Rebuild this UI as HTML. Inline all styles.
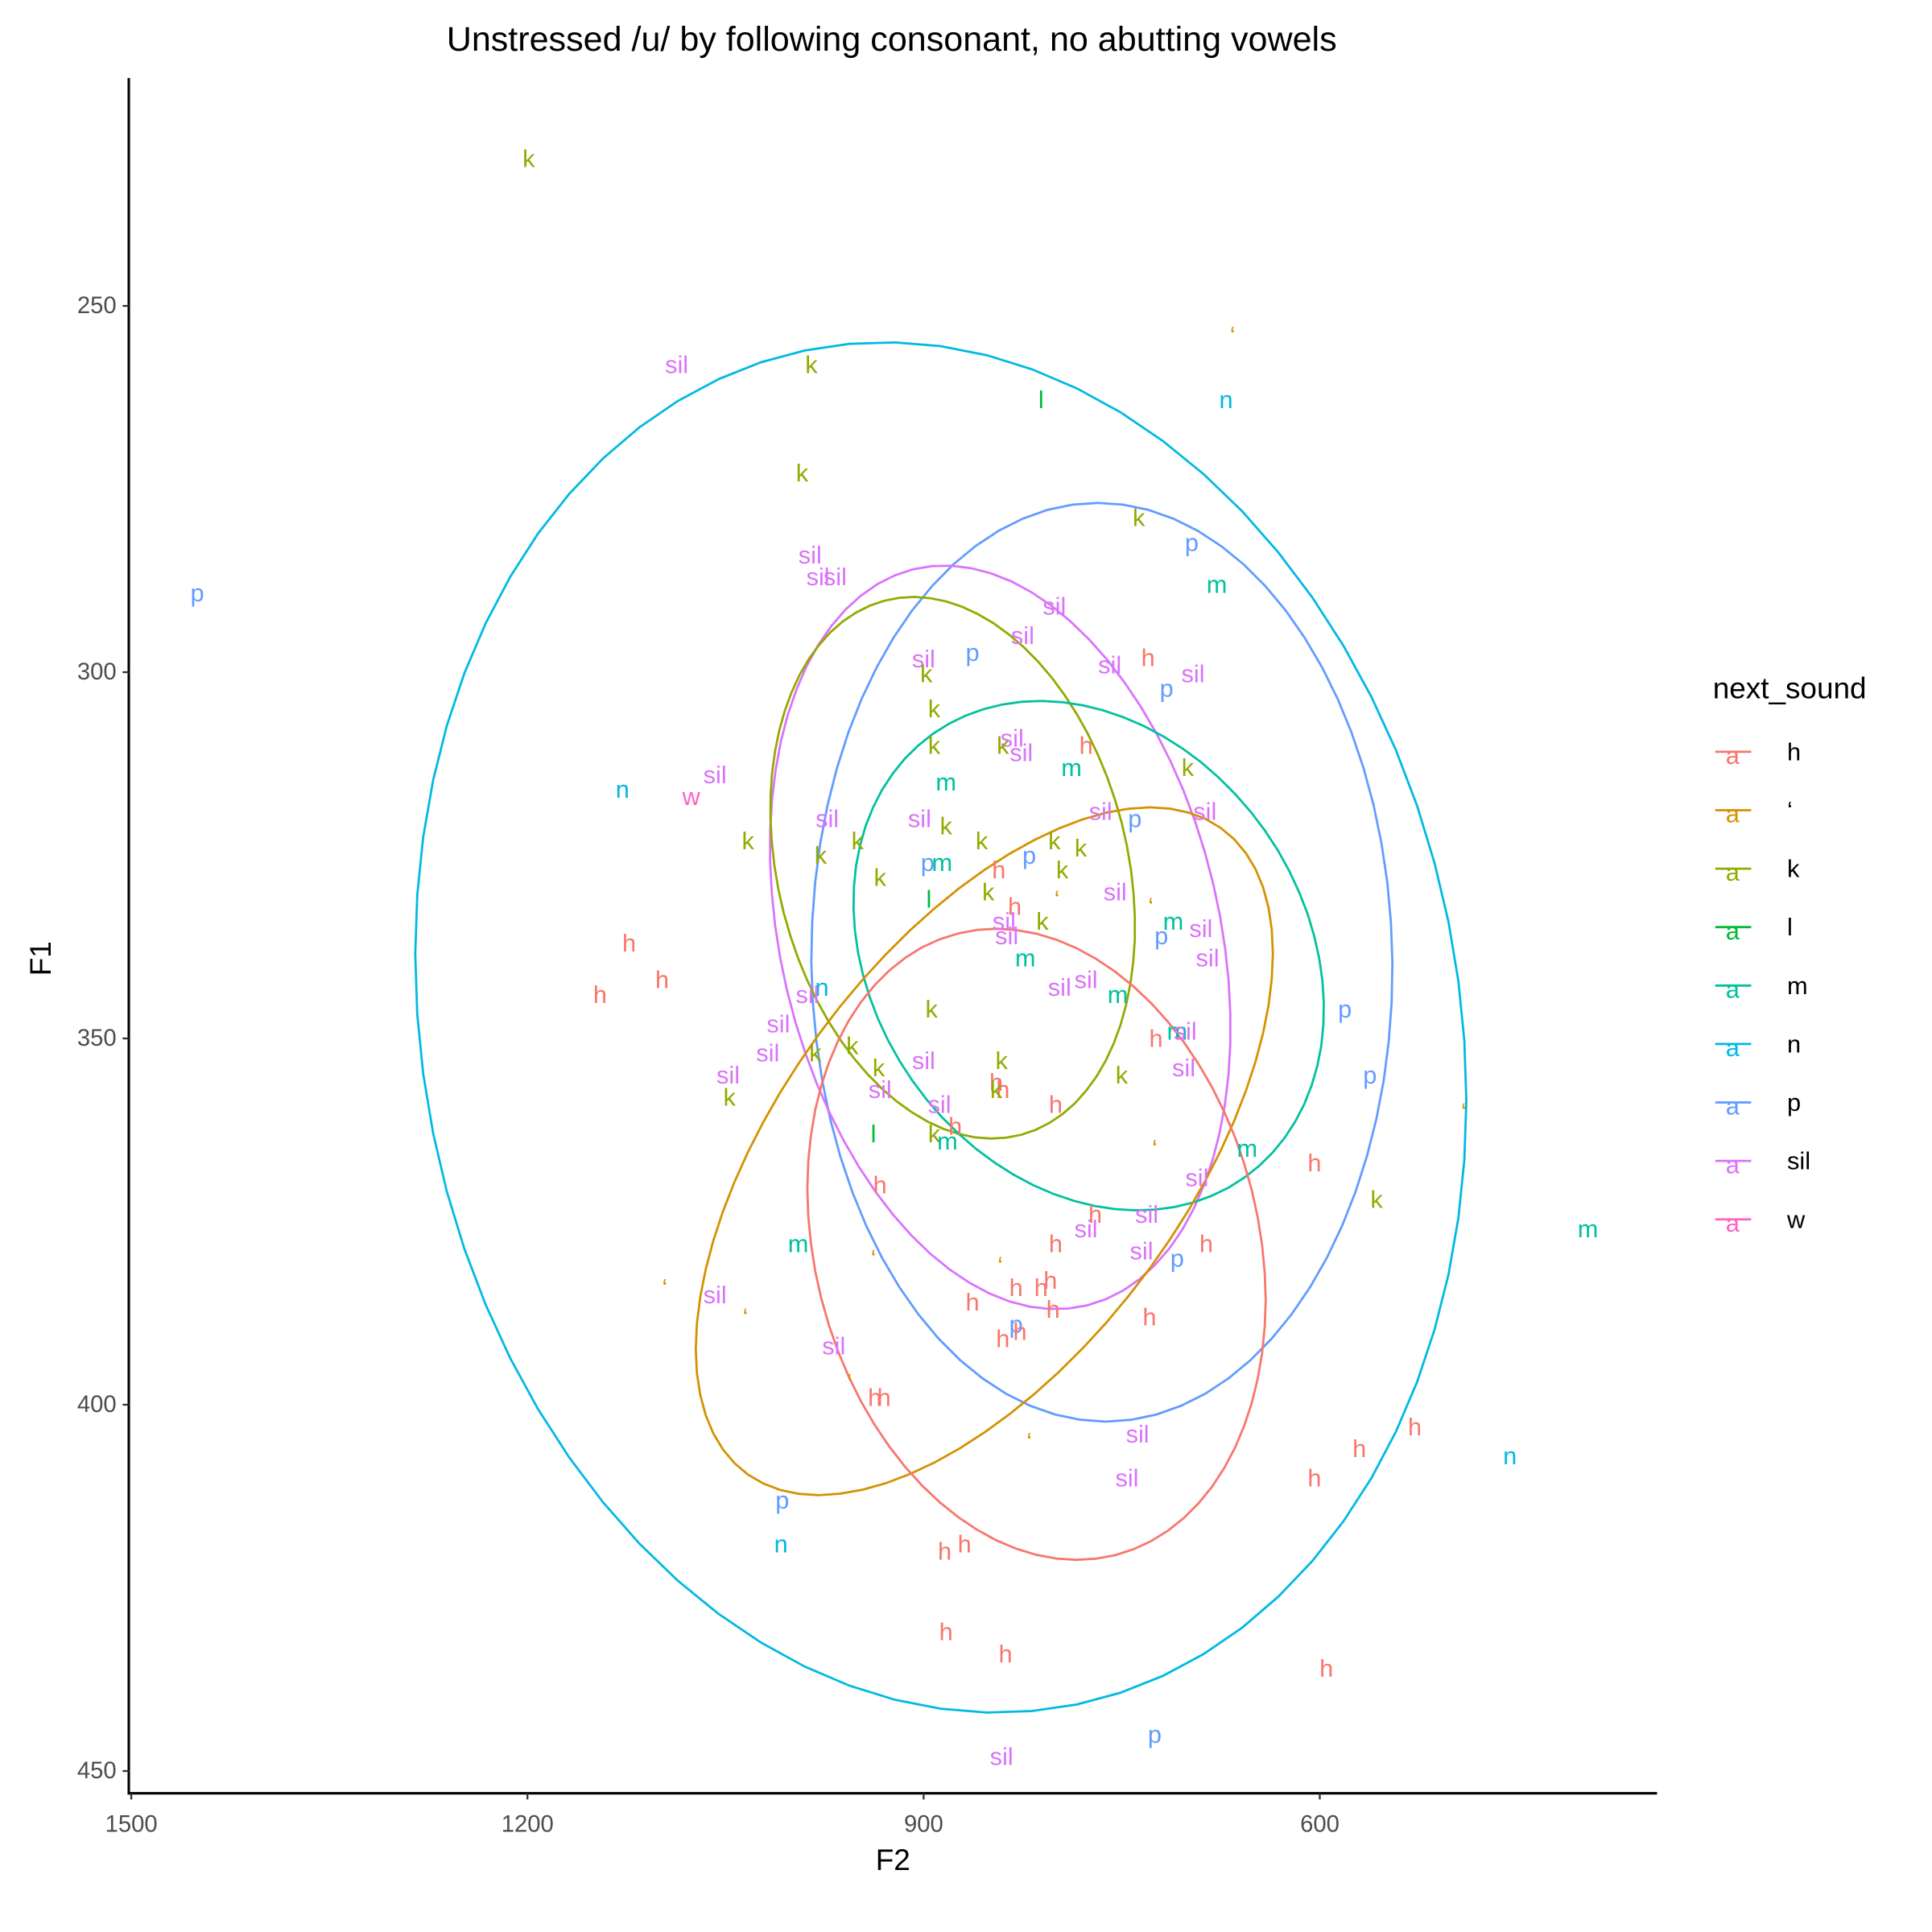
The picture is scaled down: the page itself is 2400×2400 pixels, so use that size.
<!DOCTYPE html>
<html><head><meta charset="utf-8"><style>
html,body{margin:0;padding:0;background:#fff;}
svg{display:block;font-family:"Liberation Sans",Arial,sans-serif;}
</style></head><body>
<svg id="chart" width="2400" height="2400" viewBox="0 0 1560 1560" xmlns="http://www.w3.org/2000/svg">
<rect width="1560" height="1560" fill="#fff"/>
<text x="720" y="41" font-size="28" text-anchor="middle">Unstressed /u/ by following consonant, no abutting vowels</text>
<g id="ellipses"></g>
<g id="points"></g>
<line x1="104" y1="63" x2="104" y2="1449" stroke="#000" stroke-width="2"/>
<line x1="103" y1="1448" x2="1338" y2="1448" stroke="#000" stroke-width="2"/>
<g id="yticks"></g>
<g id="xticks"></g>
<text x="721" y="1510" font-size="24" text-anchor="middle">F2</text>
<text x="0" y="0" font-size="24" text-anchor="middle" transform="translate(41,774) rotate(-90)">F1</text>
<g id="legend">
<text x="1383" y="564" font-size="24">next_sound</text>
</g>
</svg>
<script>
const categories = ["h","‘","k","l","m","n","p","sil","w"];
const colors = ["#F8766D","#D39200","#93AA00","#00BA38","#00C19F","#00B9E3","#619CFF","#DB72FB","#FF61C3"];
const xTicks = [1500,1200,900,600];
const yTicks = [250,300,350,400,450];
// point data: [label, F2, F1]
const pointLabels = ["k","sil","k","‘","l","n","k","k","p","sil","sil","sil","p","m","sil","sil","p","sil","k","h","sil","sil","p","k","sil","k","sil","k","h","k","m","m","sil","n","w","sil","k","sil","sil","p","sil","k","k","k","k","k","k","p","m","p","k","h","k","k","l","sil","‘","‘","h","k","m","sil","sil","p","sil","m","sil","h","h","h","sil","sil","m","n","sil","k","sil","m","sil","h","p","sil","k","sil","k","k","sil","k","p","sil","k","h","h","k","sil","k","sil","h","h","‘","k","l","m","‘","m","h","h","sil","k","h","sil","sil","m","m","h","h","sil","p","‘","‘","h","h","h","‘","sil","h","h","‘","h","p","h","h","sil","‘","h","h","h","sil","‘","h","n","sil","h","p","n","h","h","h","h","h","p","sil"];
const pointF2 = [1199,1087,985,666,811,671,992,737,697,986,980,967,1450,678,801,825,863,900,898,730,759,696,716,892,833,840,826,892,777,700,788,883,1058,1128,1076,903,883,973,766,740,687,1033,978,950,856,801,781,897,886,820,933,843,795,851,896,755,799,728,831,810,711,839,690,720,837,823,685,1123,1098,1145,777,797,753,977,988,894,1010,708,702,724,581,1018,982,900,841,954,703,934,562,1048,750,845,840,1047,933,845,888,800,876,491,892,938,882,725,655,604,933,693,557,770,731,777,397,995,800,686,735,708,938,842,804,830,811,1096,1058,863,802,1035,729,830,827,840,968,956,937,930,528,738,820,570,456,746,604,1007,1008,869,884,883,838,595,725,841];
const pointF1 = [229.9,258,258,254,262.8,262.8,272.8,278.9,282.3,284,287,287,289.2,288,291,295,297.3,298.2,300.2,298,299,300.2,302.2,305,309,310,311,310,310,313,313,315,314,316,317,320,321,320,319,320,319,323,325,323,323,323,324,326,326,325,328,327,327,330,331,330,331,332,332,334,334,334,335,336,336,339,339,337,342,344,342,343,344,343,344,346,348,349,349,350,346,352,352,353,353,351,354,354,355,355,355,356,357,358,357,357,359,359,362,360,363,363,364,365,365,367,370,369,372,374,374,376,376,378,378,378,379,380,380,381,383,384,384,384,385,386,387,388,388,389,390,391,392,397,399,399,403,404,405,406,407,410,410,413,419,419,420,431,434,436,445,448];
// ellipses: center and conjugate semi-diameters in data units
const ellCat = ["n","p","sil","k","m","‘","h"];
const ellC2 = [887,765,842,878,775,854,814.5];
const ellC1 = [348.5,339.6,336.2,326.7,338.7,365.4,378.1];
const ellU2 = [398,220,173,137,177,-218.5,-173.5];
const ellU1 = [-10,0,-6,-3.5,-3.4,-27,7.6];
const ellV2 = [0,-3,-22,-17,-20,0,0];
const ellV1 = [93,62.7,50.4,36.8,34.6,38.4,42.4];

const NS="http://www.w3.org/2000/svg";
function xScale(v){return 106+(1500-v)*1.0663;}
function yScale(v){return 247+(v-250)*5.915;}
function mk(tag,attrs,parent){const e=document.createElementNS(NS,tag);for(const k in attrs)e.setAttribute(k,attrs[k]);parent.appendChild(e);return e;}
function colorOf(c){return colors[categories.indexOf(c)];}

const eg=document.getElementById('ellipses');
for(let i=0;i<ellCat.length;i++){
  let d="";
  for(let j=0;j<=72;j++){
    const t=j/72*2*Math.PI;
    const f2=ellC2[i]+ellU2[i]*Math.cos(t)+ellV2[i]*Math.sin(t);
    const f1=ellC1[i]+ellU1[i]*Math.cos(t)+ellV1[i]*Math.sin(t);
    d+=(j?"L":"M")+xScale(f2).toFixed(1)+","+yScale(f1).toFixed(1);
  }
  const p=mk('path',{d:d,fill:'none',stroke:colorOf(ellCat[i]),'stroke-width':1.8},eg);
  
  
}
const pg=document.getElementById('points');
for(let i=0;i<pointLabels.length;i++){
  const t=mk('text',{x:xScale(pointF2[i]),y:yScale(pointF1[i]),'font-size':20,'text-anchor':'middle','dominant-baseline':'central',fill:colorOf(pointLabels[i])},pg);
  t.textContent=pointLabels[i];
  
  
}
const yg=document.getElementById('yticks');
yTicks.forEach(v=>{
  const y=yScale(v);
  const l=mk('line',{x1:99,x2:104,y1:y,y2:y,stroke:'#333','stroke-width':1.5},yg);
  
  
  const t=mk('text',{x:94,y:y,'font-size':19,'text-anchor':'end','dominant-baseline':'central',fill:'#4d4d4d'},yg);
  t.textContent=v;
  
  
});
const xg=document.getElementById('xticks');
xTicks.forEach(v=>{
  const x=xScale(v);
  const l=mk('line',{x1:x,x2:x,y1:1448,y2:1453,stroke:'#333','stroke-width':1.5},xg);
  
  
  const t=mk('text',{x:x,y:1479,'font-size':19,'text-anchor':'middle',fill:'#4d4d4d'},xg);
  t.textContent=v;
  
  
});
const lg=document.getElementById('legend');
categories.forEach((c,i)=>{
  const y=607+i*47.2;
  const l=mk('line',{x1:1385,x2:1414,y1:y,y2:y,stroke:colors[i],'stroke-width':1.8},lg);
  
  
  const a=mk('text',{x:1399,y:y+3,'font-size':20,'text-anchor':'middle','dominant-baseline':'central',fill:colors[i]},lg);
  a.textContent='a';
  
  
  const t=mk('text',{x:1443,y:y,'font-size':20,'dominant-baseline':'central',fill:'#000'},lg);
  t.textContent=c;
  
  
});
</script>
</body></html>
